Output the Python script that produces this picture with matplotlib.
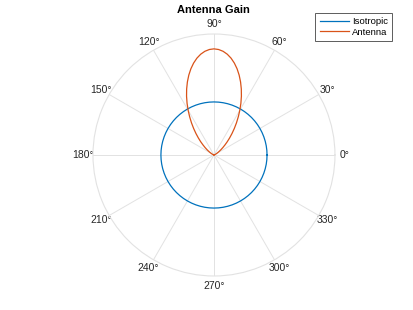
import matplotlib.pyplot as plt
import numpy as np

plt.rcParams["font.family"] = ["Liberation Sans", "DejaVu Sans"]

# angles in degrees
iso_deg = list(range(0, 365, 5))
iso_gain = [1.0] * len(iso_deg)

ant_deg = [i * 2.5 for i in range(73)]
ant_gain = [0.0, 0.0, 0.00001, 0.0001, 0.0003, 0.001, 0.0023, 0.0049,
            0.0094, 0.0164, 0.027, 0.042, 0.0625, 0.0896, 0.124, 0.167,
            0.219, 0.281, 0.354, 0.436, 0.528, 0.629, 0.738, 0.853,
            0.974, 1.098, 1.223, 1.346, 1.465, 1.578, 1.682, 1.774,
            1.853, 1.916, 1.962, 1.990, 2.0]
ant_gain = ant_gain + ant_gain[-2::-1]

theta_ticks = list(range(0, 360, 30))
theta_labels = [f"{t}°" for t in theta_ticks]

fig = plt.figure(figsize=(4.14, 3.10), dpi=100)
ax = fig.add_axes([0.2246, 0.1097, 0.5845, 0.7806], projection="polar")

ax.plot(np.deg2rad(iso_deg), iso_gain, color="#0072BD", lw=0.9, label="Isotropic")
ax.plot(np.deg2rad(ant_deg), ant_gain, color="#D95319", lw=0.9, label="Antenna")

ax.set_ylim(0, 2.28)
ax.set_yticks([])
ax.set_thetagrids(theta_ticks, theta_labels, fontsize=7.5, color="#262626")
ax.tick_params(axis="x", pad=-3.5)
ax.grid(True, color="#e2e2e2", lw=0.7)
ax.spines["polar"].set_color("#e2e2e2")
ax.spines["polar"].set_linewidth(0.8)

fig.suptitle("Antenna Gain", x=0.516, y=0.985, fontsize=8, fontweight="bold")

leg = fig.legend(loc="upper right", bbox_to_anchor=(0.947, 0.958),
                 fontsize=6.8, frameon=True, fancybox=False,
                 handlelength=3.1, handletextpad=0.3, borderpad=0.45,
                 borderaxespad=0, labelspacing=0.15)
leg.get_frame().set_edgecolor("#333333")
leg.get_frame().set_linewidth(0.7)

fig.savefig("out.png", dpi=100)
